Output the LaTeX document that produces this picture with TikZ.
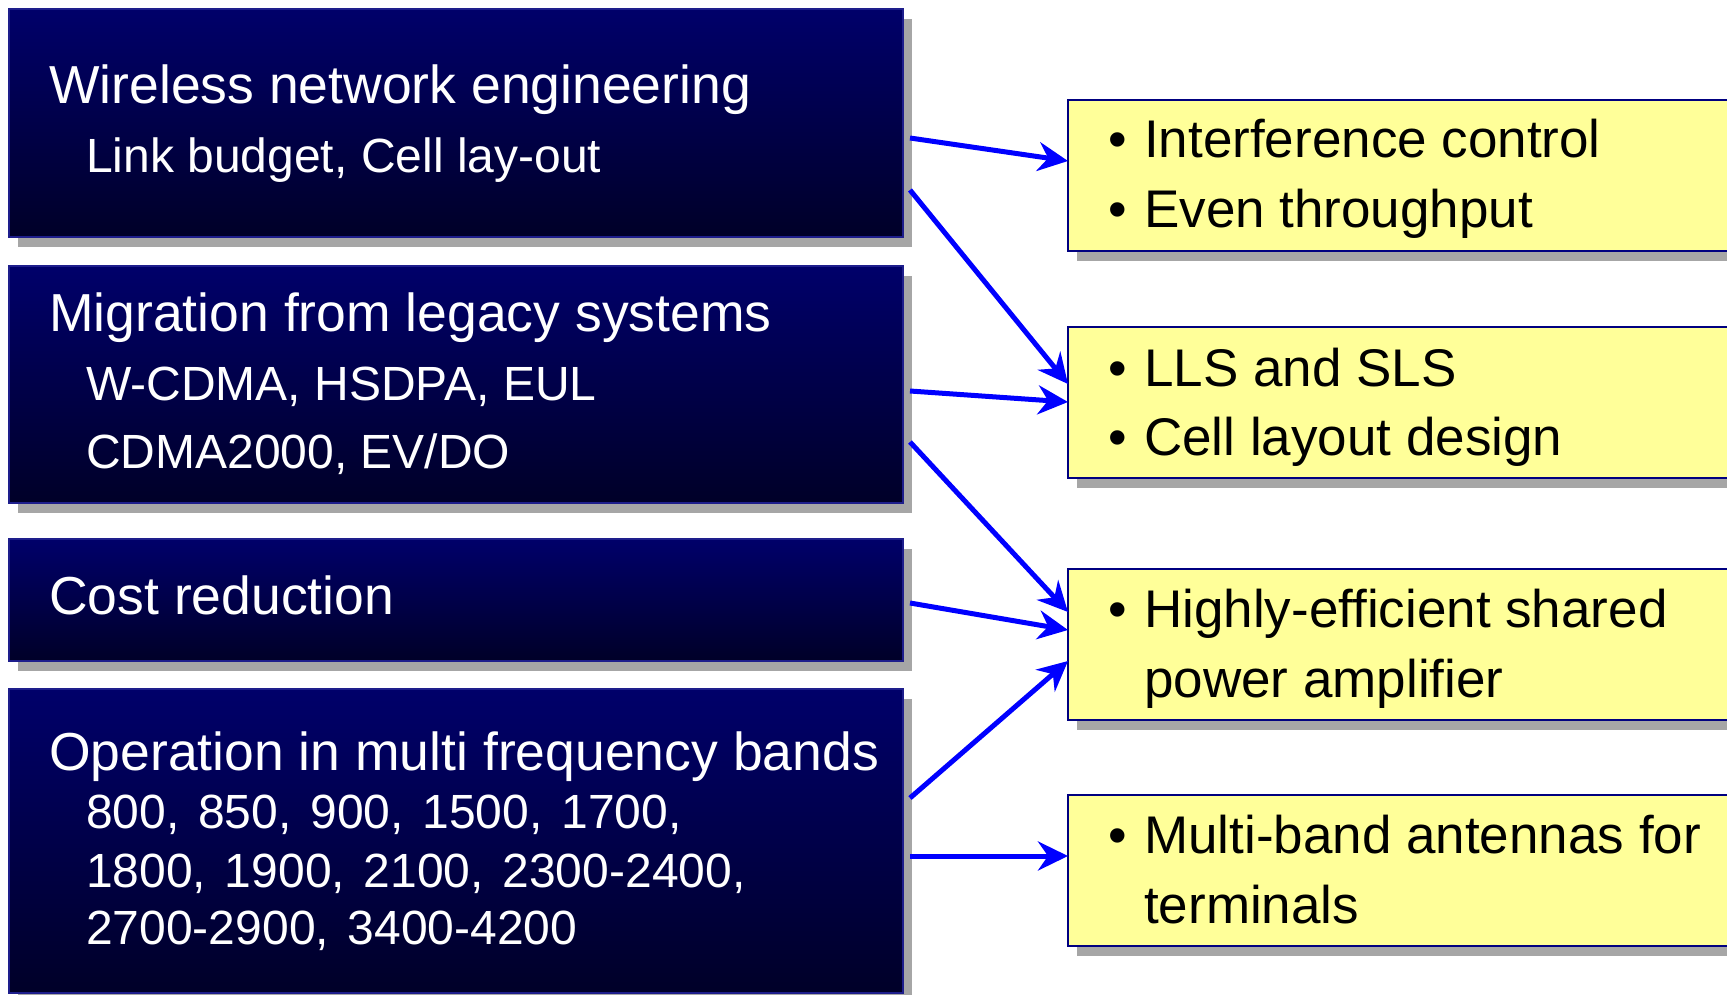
\documentclass[tikz,border=0pt]{standalone}
\usepackage{fontspec}
\setmainfont{Liberation Sans}
\usetikzlibrary{shadows,arrows.meta,calc}
\definecolor{navytop}{RGB}{0,0,106}
\definecolor{navybot}{RGB}{0,0,40}
\definecolor{navyline}{RGB}{30,30,140}
\definecolor{shadowgray}{RGB}{166,166,166}
\definecolor{paleyellow}{RGB}{255,255,153}
\definecolor{boxline}{RGB}{0,0,128}
\definecolor{arrowblue}{RGB}{0,0,255}
\begin{document}
\begin{tikzpicture}[x=1pt,y=-1pt,
  leftbox/.style={rectangle, anchor=north west, inner sep=0pt, outer sep=0pt,
    minimum width=894pt, top color=navytop, bottom color=navybot,
    draw=navyline, line width=1.5pt,
    drop shadow={shadow xshift=9pt, shadow yshift=-10pt, fill=shadowgray, opacity=1}},
  rightbox/.style={rectangle, anchor=north west, inner sep=0pt, outer sep=0pt,
    minimum width=720pt, minimum height=151pt, fill=paleyellow,
    draw=boxline, line width=2pt,
    drop shadow={shadow xshift=9pt, shadow yshift=-10pt, fill=shadowgray, opacity=1}},
  titletext/.style={anchor=base west, inner sep=0pt, text=white, font=\fontsize{53.5}{60}\selectfont},
  subtext/.style={anchor=base west, inner sep=0pt, text=white, font=\fontsize{48}{56}\selectfont},
  righttext/.style={anchor=base west, inner sep=0pt, text=black, font=\fontsize{53}{60}\selectfont},
  conn/.style={draw=arrowblue, line width=5pt, -{Stealth[length=30pt,width=29pt,inset=10pt]}}
]
\clip (0,0) rectangle (1727,995);

% left boxes
\node[leftbox, minimum height=228pt] (L1) at (9,9) {};
\node[leftbox, minimum height=237pt] (L2) at (9,266) {};
\node[leftbox, minimum height=122pt] (L3) at (9,539) {};
\node[leftbox, minimum height=304pt] (L4) at (9,689) {};

\node[titletext] (t1) at (49,104) {Wireless network engineering};
\node[subtext] (s1) at (86,173) {Link budget, Cell lay-out};

\node[titletext] (t2) at (49,331) {Migration from legacy systems};
\node[subtext] (s2a) at (86,400) {W-CDMA, HSDPA, EUL};
\node[subtext] (s2b) at (86,468) {CDMA2000, EV/DO};

\node[titletext] (t3) at (49,614) {Cost reduction};

\node[titletext] (t4) at (49,770) {Operation in multi frequency bands};
\node[subtext] (s4a) at (86,828) {\spaceskip=0.39em 800, 850, 900, 1500, 1700,};
\node[subtext] (s4b) at (86,887) {\spaceskip=0.39em 1800, 1900, 2100, 2300-2400,};
\node[subtext] (s4c) at (86,944) {\spaceskip=0.39em 2700-2900, 3400-4200};

% right boxes
\node[rightbox] (R1) at (1068,100) {};
\node[rightbox] (R2) at (1068,327) {};
\node[rightbox] (R3) at (1068,569) {};
\node[rightbox] (R4) at (1068,795) {};

\node[righttext] (r1a) at (1108,158) {\makebox[36pt][l]{•}Interference control};
\node[righttext] (r1b) at (1108,228) {\makebox[36pt][l]{•}Even throughput};
\node[righttext] (r2a) at (1108,386) {\makebox[36pt][l]{•}LLS and SLS};
\node[righttext] (r2b) at (1108,455) {\makebox[36pt][l]{•}Cell layout design};
\node[righttext] (r3a) at (1108,627) {\makebox[36pt][l]{•}Highly-efficient shared};
\node[righttext] (r3b) at (1144,697) {power amplifier};
\node[righttext] (r4a) at (1108,853) {\makebox[36pt][l]{•}Multi-band antennas for};
\node[righttext] (r4b) at (1144,923) {terminals};

% connectors
\draw[conn] ($(L1.north east)+(7,129)$) -- ($(R1.north west)+(0,61)$);
\draw[conn] ($(L1.north east)+(7,181)$) -- ($(R2.north west)+(0,57)$);
\draw[conn] ($(L2.north east)+(7,125)$) -- ($(R2.north west)+(0,75)$);
\draw[conn] ($(L2.north east)+(7,176)$) -- ($(R3.north west)+(0,43)$);
\draw[conn] ($(L3.north east)+(7,64)$) -- ($(R3.north west)+(0,61)$);
\draw[conn] ($(L4.north east)+(7,109)$) -- ($(R3.north west)+(0,92)$);
\draw[conn] ($(L4.north east)+(7,167)$) -- ($(R4.north west)+(0,61)$);
\end{tikzpicture}
\end{document}
